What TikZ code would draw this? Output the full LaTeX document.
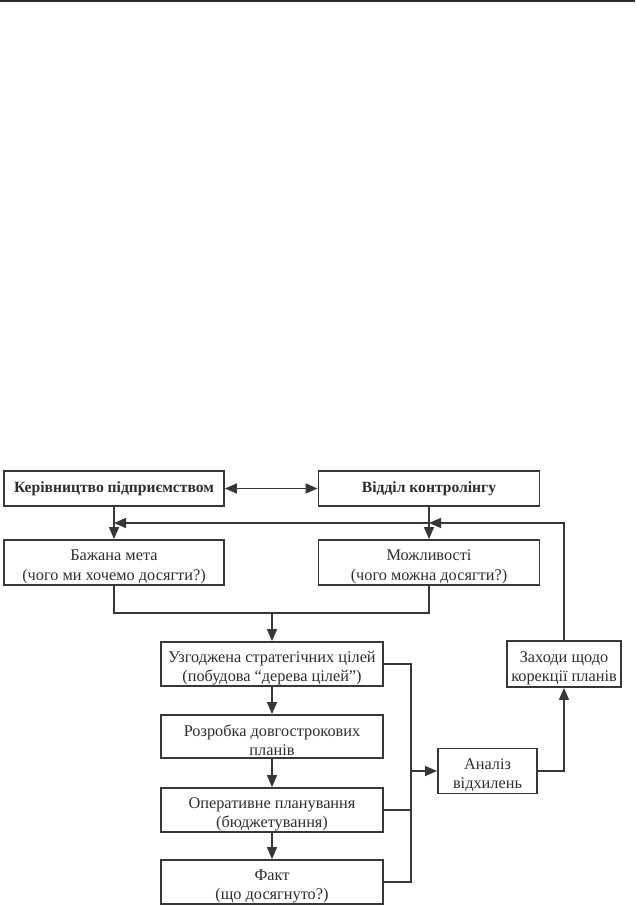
\documentclass[tikz,border=0pt]{standalone}
\usepackage{fontspec}
\setmainfont{Liberation Serif}
\usetikzlibrary{arrows.meta}
\definecolor{ln}{RGB}{55,55,55}
\definecolor{tx}{RGB}{45,45,45}
\newcommand\mytopstrut{\rule{0pt}{19pt}}
\begin{document}
\begin{tikzpicture}[x=1pt,y=-1pt,
  box/.style={draw=ln,line width=1.9pt,rectangle,inner sep=0pt,align=center,text=tx,
    font=\fontsize{16.3}{19.5}\selectfont},
  boldbox/.style={box,font=\fontsize{15.6}{19}\selectfont\bfseries},
  conn/.style={draw=ln,line width=1.5pt},
  arr/.style={conn,-{Triangle[length=12pt,width=10pt]}},
  darr/.style={conn,{Triangle[length=12pt,width=10pt]}-{Triangle[length=12pt,width=10pt]}}]
\useasboundingbox (0,0) rectangle (635,905);
\fill[ln!80!black] (0,0) rectangle (635,2.3);
\node[boldbox,minimum width=220pt,minimum height=35pt] (K) at (114,488.5) {Керівництво підприємством};
\node[boldbox,minimum width=221pt,minimum height=35pt] (V) at (429,488.5) {Відділ контролінгу};
\node[box,minimum width=220pt,minimum height=45pt] (B) at (114,562.5) {\mytopstrut Бажана мета\\(чого ми хочемо досягти?)};
\node[box,minimum width=221pt,minimum height=45pt] (M) at (429,562.5) {\mytopstrut Можливості\\(чого можна досягти?)};
\node[box,minimum width=222pt,minimum height=44pt] (U) at (272,664) {\mytopstrut Узгоджена стратегічних цілей\\(побудова “дерева цілей”)};
\node[box,minimum width=222pt,minimum height=43pt] (R) at (272,736.5) {\mytopstrut Розробка довгострокових\\планів};
\node[box,minimum width=222pt,minimum height=44pt] (O) at (272,810) {\mytopstrut Оперативне планування\\(бюджетування)};
\node[box,minimum width=222pt,minimum height=44pt] (F) at (272,882) {\mytopstrut Факт\\(що досягнуто?)};
\node[box,minimum width=99pt,minimum height=45pt] (A) at (487.5,771) {\mytopstrut Аналіз\\відхилень};
\node[box,minimum width=114pt,minimum height=46pt] (Z) at (564,664) {\mytopstrut Заходи щодо\\корекції планів};
\coordinate (fb) at (564,523);
\coordinate (mrg) at (272,613);
\coordinate (bus) at (411,771);
\draw[darr] (K.east) -- (V.west);
\draw[arr] (K.south) -- (B.north);
\draw[arr] (V.south) -- (M.north);
\draw[arr] (Z.north) -- (fb) -- (V.south |- fb);
\draw[arr] (V.south |- fb) -- (K.south |- fb);
\draw[conn] (B.south) |- (mrg) -| (M.south);
\draw[arr] (mrg) -- (U.north);
\draw[arr] (U.south) -- (R.north);
\draw[arr] (R.south) -- (O.north);
\draw[arr] (O.south) -- (F.north);
\draw[conn] (U.east) -| (bus) |- (F.east);
\draw[conn] (O.east) -- (O.east -| bus);
\draw[arr] (bus) -- (A.west);
\draw[arr] (A.east) -| (Z.south);
\end{tikzpicture}
\end{document}
